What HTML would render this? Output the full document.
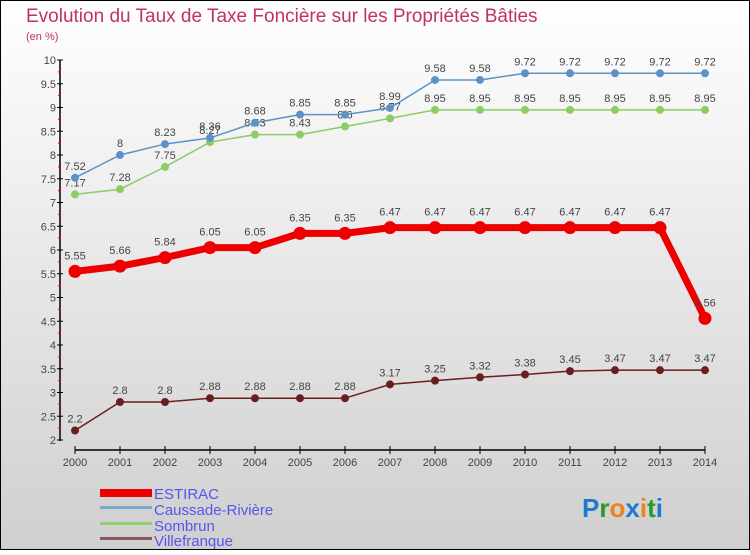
<!DOCTYPE html>
<html><head><meta charset="utf-8"><style>
body{margin:0}
#c{width:750px;height:550px;position:relative;font-family:"Liberation Sans",sans-serif}
</style></head><body>
<div id="c">
<svg id="s" width="750" height="550" xmlns="http://www.w3.org/2000/svg">
<defs><linearGradient id="bg" x1="0" y1="0" x2="0" y2="1"><stop offset="0" stop-color="#ffffff"/><stop offset="1" stop-color="#cfcfcf"/></linearGradient></defs>
<rect x="0.5" y="0.5" width="749" height="549" fill="url(#bg)" stroke="#000"/>
<text x="26" y="22" font-size="19" fill="#c0306a">Evolution du Taux de Taxe Foncière sur les Propriétés Bâties</text>
<text x="26" y="40" font-size="11" fill="#c0306a">(en %)</text>
<g id="axes"></g><g id="series"></g>
<g>
<rect x="100" y="489" width="52" height="8" fill="#e00"/>
<text x="154" y="499" font-size="15" fill="#5555ee">ESTIRAC</text>
<rect x="100" y="506" width="52" height="3" fill="#7aa8d0"/>
<text x="154" y="515" font-size="15" fill="#5555ee">Caussade-Rivière</text>
<rect x="100" y="522" width="52" height="3" fill="#90d070"/>
<text x="154" y="531" font-size="15" fill="#5555ee">Sombrun</text>
<rect x="100" y="537" width="52" height="3" fill="#8a5a5a"/>
<text x="154" y="546" font-size="15" fill="#5555ee">Villefranque</text>
</g>
<text x="582" y="517" font-size="26" font-weight="bold"><tspan fill="#1e7ad0">P</tspan><tspan fill="#2a9a2a">r</tspan><tspan fill="#f08020">o</tspan><tspan fill="#1e7ad0">x</tspan><tspan fill="#f08020">i</tspan><tspan fill="#2a9a2a">t</tspan><tspan fill="#1e7ad0">i</tspan></text>
</svg>
</div>
<script>
const years=[2000,2001,2002,2003,2004,2005,2006,2007,2008,2009,2010,2011,2012,2013,2014];
const yTicks=[2,2.5,3,3.5,4,4.5,5,5.5,6,6.5,7,7.5,8,8.5,9,9.5,10];
const estirac=[5.55,5.66,5.84,6.05,6.05,6.35,6.35,6.47,6.47,6.47,6.47,6.47,6.47,6.47,4.56];
const caussade=[7.52,8,8.23,8.36,8.68,8.85,8.85,8.99,9.58,9.58,9.72,9.72,9.72,9.72,9.72];
const sombrun=[7.17,7.28,7.75,8.27,8.43,8.43,8.6,8.77,8.95,8.95,8.95,8.95,8.95,8.95,8.95];
const villefranque=[2.2,2.8,2.8,2.88,2.88,2.88,2.88,3.17,3.25,3.32,3.38,3.45,3.47,3.47,3.47];
const NS="http://www.w3.org/2000/svg";
const xS=i=>75+i*45, yS=v=>440-(v-2)*47.5;
function mk(p,t,a){const e=document.createElementNS(NS,t);for(const k in a)e.setAttribute(k,a[k]);p.appendChild(e);return e;}
const ax=document.getElementById('axes'),sr=document.getElementById('series');
let l=mk(ax,'line',{x1:60,y1:yS(10),x2:60,y2:yS(2)+1,stroke:'#000','stroke-width':1.5});


l=mk(ax,'line',{x1:75,y1:450,x2:705,y2:450,stroke:'#000','stroke-width':1.5});


yTicks.forEach(v=>{const y=yS(v);mk(ax,'line',{x1:57,y1:y,x2:63,y2:y,stroke:'#000'});
const t=mk(ax,'text',{x:56,y:y+4,'font-size':11,'text-anchor':'end',fill:'#444'});t.textContent=String(v);


if(v<10)mk(ax,'line',{x1:58,y1:y-11.9,x2:61,y2:y-11.9,stroke:'#e00'});});
years.forEach((yr,i)=>{const x=xS(i);mk(ax,'line',{x1:x,y1:446,x2:x,y2:454,stroke:'#000'});
const t=mk(ax,'text',{x:x,y:466,'font-size':11,'text-anchor':'middle',fill:'#444'});t.textContent=String(yr);

});
function draw(d,color,w,r,fill,name,off){
const g=mk(sr,'g',{});


mk(g,'polyline',{points:d.map((v,i)=>xS(i)+','+yS(v)).join(' '),fill:'none',stroke:color,'stroke-width':w,'stroke-linejoin':'round'});
d.forEach((v,i)=>{const c=mk(g,'circle',{cx:xS(i),cy:yS(v),r:r,fill:fill,stroke:color,'stroke-width':1});


const t=mk(g,'text',{x:xS(i),y:yS(v)+off,'font-size':11,'text-anchor':'middle',fill:'#444'});t.textContent=String(v);

});}
draw(villefranque,'#6b1e1e',1.5,3.5,'#6b1e1e','villefranque-series',-8);
draw(sombrun,'#8ccc66',1.5,3.5,'#8ccc66','sombrun-series',-8);
draw(caussade,'#5b93c7',1.5,3.5,'#5b93c7','caussade-series',-8);
draw(estirac,'#ee0000',7,6,'#ee0000','estirac-series',-12);
</script>
</body></html>
